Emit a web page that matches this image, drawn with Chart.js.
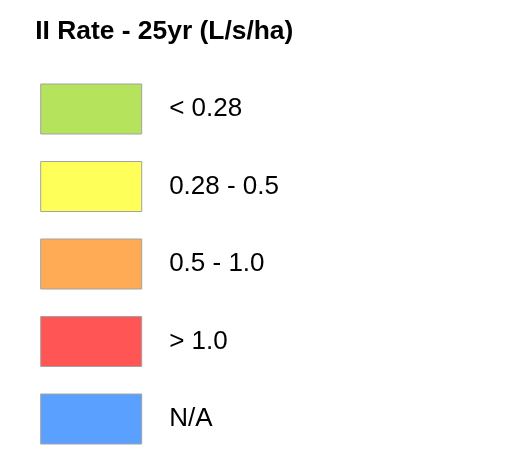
<!DOCTYPE html>
<html>
<head>
<meta charset="utf-8">
<script src="https://cdn.jsdelivr.net/npm/chart.js@4"></script>
<style>
    html, body { margin: 0; padding: 0; background: #ffffff; }
    #wrap { width: 523px; height: 454px; }
</style>
</head>
<body>
<div id="wrap"><canvas id="legend"></canvas></div>
<script>
const title = "II Rate - 25yr (L/s/ha)";
const classes = ["< 0.28", "0.28 - 0.5", "0.5 - 1.0", "> 1.0", "N/A"];
const classColors = ["#b5e35b", "#ffff5a", "#ffaa55", "#ff5555", "#5aa0ff"];
const borderColor = "#a3a3a3";

// the picture is only a legend, so each class is an empty dataset
const datasets = classes.map((label, i) => ({
    label: "  " + label,
    data: [],
    backgroundColor: classColors[i],
    borderColor: borderColor,
    borderWidth: 1,
}));

const ctx = document.getElementById("legend").getContext("2d");

new Chart(ctx, {
    type: "bar",
    data: {
        labels: [],
        datasets: datasets,
    },
    options: {
        responsive: true,
        maintainAspectRatio: false,
        animation: false,
        // legend column runs a bit past the bottom edge so it never wraps,
        // right side is widened so the labels are not clipped
        layout: {
            padding: { left: 13.2, top: 0, right: -150, bottom: -17.5 }
        },
        scales: {
            x: { display: false },
            y: { display: false },
        },
        plugins: {
            tooltip: { enabled: false },
            title: {
                display: true,
                text: "   " + title,
                align: "start",
                color: "#000000",
                padding: { top: 16.2, bottom: 8.3 },
                font: {
                    family: "Arial, 'Liberation Sans', sans-serif",
                    size: 26.4,
                    weight: "bold",
                }
            },
            legend: {
                display: true,
                position: "left",
                align: "end",
                fullSize: true,
                labels: {
                    boxWidth: 101,
                    boxHeight: 50,
                    padding: 27.5,
                    color: "#000000",
                    font: {
                        family: "Arial, 'Liberation Sans', sans-serif",
                        size: 26,
                    }
                }
            }
        }
    }
});
</script>
</body>
</html>
